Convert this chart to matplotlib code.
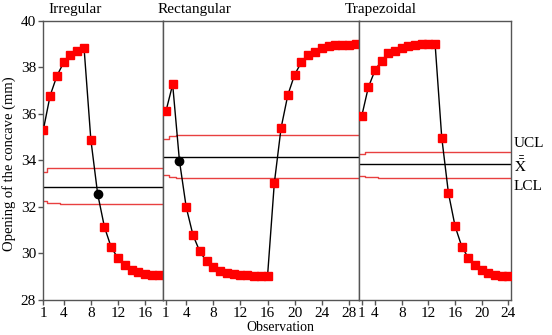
import numpy as np
import matplotlib
matplotlib.use("Agg")
import matplotlib.pyplot as plt

plt.rcParams['font.family'] = ['Liberation Serif', 'DejaVu Serif']
plt.rcParams['mathtext.fontset'] = 'stix'

# ---- data ----
irr_x = np.arange(1, 19)
irr_y = [35.32, 36.79, 37.64, 38.22, 38.53, 38.71, 38.83, 34.89, 32.56, 31.14,
         30.26, 29.80, 29.49, 29.27, 29.19, 29.10, 29.06, 29.06]
irr_ucl = [33.52, 33.66, 33.66] + [33.69] * 15
irr_cl = 32.88
irr_lcl = [32.27, 32.17, 32.17] + [32.13] * 15

rec_x = np.arange(1, 30)
rec_y = [36.11, 37.27, 33.99, 31.99, 30.79, 30.09, 29.66, 29.41, 29.24, 29.14,
         29.10, 29.06, 29.06, 29.02, 29.02, 29.02, 33.02, 35.40, 36.82, 37.69,
         38.23, 38.54, 38.68, 38.83, 38.93, 38.97, 38.97, 38.97, 39.00]
rec_ucl = [34.93, 35.07] + [35.10] * 27
rec_cl = 34.14
rec_lcl = [33.38, 33.28] + [33.24] * 27

trap_x = np.arange(2, 25)
trap_y = [35.90, 37.15, 37.88, 38.30, 38.62, 38.73, 38.85, 38.93, 38.98, 38.99,
          38.99, 39.02, 34.98, 32.60, 31.17, 30.30, 29.80, 29.49, 29.30, 29.16,
          29.08, 29.04, 29.04]
trap_ucl = [34.30, 34.35, 34.35] + [34.37] * 20
trap_cl = 33.83
trap_lcl = [33.33, 33.28, 33.28] + [33.24] * 20

titles = ['Irregular', 'Rectangular', 'Trapezoidal']
irr_ticks = [1, 4, 8, 12, 16]
rec_ticks = [1, 4, 8, 12, 16, 20, 24, 28]
trap_ticks = [2, 4, 8, 12, 16, 20, 24]
trap_ticklabels = ['1', '4', '8', '12', '16', '20', '24']

W, H = 552, 335
fig = plt.figure(figsize=(W / 100, H / 100), dpi=100)

top_px, bot_px = 21, 300
panels = [
    (43, 162.5, (0.95, 18.55), irr_x, irr_y, irr_ucl, irr_cl, irr_lcl, irr_ticks, [str(t) for t in irr_ticks]),
    (162.5, 359, (0.5, 29.5), rec_x, rec_y, rec_ucl, rec_cl, rec_lcl, rec_ticks, [str(t) for t in rec_ticks]),
    (359, 510.5, (1.6, 24.3), trap_x, trap_y, trap_ucl, trap_cl, trap_lcl, trap_ticks, trap_ticklabels),
]

spine_col = '#555555'
red_line = '#e84040'
axes = []
for i, (l, r, xl, xs, ys, ucl, cl, lcl, ticks, tlabels) in enumerate(panels):
    ax = fig.add_axes([l / W, 1 - bot_px / H, (r - l) / W, (bot_px - top_px) / H])
    axes.append(ax)
    ax.set_xlim(*xl)
    ax.set_ylim(28, 40)
    xs = np.asarray(xs)
    ys = np.asarray(ys)
    ucl = np.asarray(ucl)
    lcl = np.asarray(lcl)
    # control limits extended to panel edges
    xe = np.r_[xl[0], xs, xl[1]]
    ax.plot(xe, np.r_[ucl[0], ucl, ucl[-1]], drawstyle='steps-mid', color=red_line, lw=1)
    ax.plot(xe, np.r_[lcl[0], lcl, lcl[-1]], drawstyle='steps-mid', color=red_line, lw=1)
    ax.axhline(cl, color='black', lw=1)
    ax.plot(xs, ys, color='black', lw=1, zorder=3)
    inside = (ys <= ucl) & (ys >= lcl)
    ax.plot(xs[~inside], ys[~inside], 's', color='#ff0000', ms=6, mec='#ff0000', zorder=4)
    ax.plot(xs[inside], ys[inside], 'o', color='black', ms=6, zorder=4)
    ax.set_xticks(ticks)
    ax.set_xticklabels(tlabels)
    for s in ax.spines.values():
        s.set_color(spine_col)
        s.set_linewidth(1)
    ax.tick_params(axis='both', direction='out', length=3.5, width=1, color=spine_col,
                   labelsize=11, pad=1.5)
    if i == 0:
        ax.set_yticks(np.arange(28, 41, 2))
    else:
        ax.set_yticks([])

fig.text(48 / W, 1 - 10 / H, titles[0], fontsize=11, va='center', ha='left')
fig.text(158 / W, 1 - 10 / H, titles[1], fontsize=11, va='center', ha='left')
fig.text(345 / W, 1 - 10 / H, titles[2], fontsize=11, va='center', ha='left')

fig.text(9 / W, 1 - 164 / H, 'Opening of the concave (mm)', rotation=90,
         fontsize=10.5, va='center', ha='center')
fig.text(280 / W, 1 / H, 'Observation', fontsize=10, va='bottom', ha='center')

fig.text(514 / W, 1 - 143 / H, 'UCL', fontsize=11, va='center', ha='left')
fig.text(514 / W, 1 - 165 / H, r'$\bar{\bar{\mathrm{X}}}$', fontsize=11, va='center', ha='left')
fig.text(514 / W, 1 - 187 / H, 'LCL', fontsize=11, va='center', ha='left')

fig.savefig('out.png', dpi=100)
